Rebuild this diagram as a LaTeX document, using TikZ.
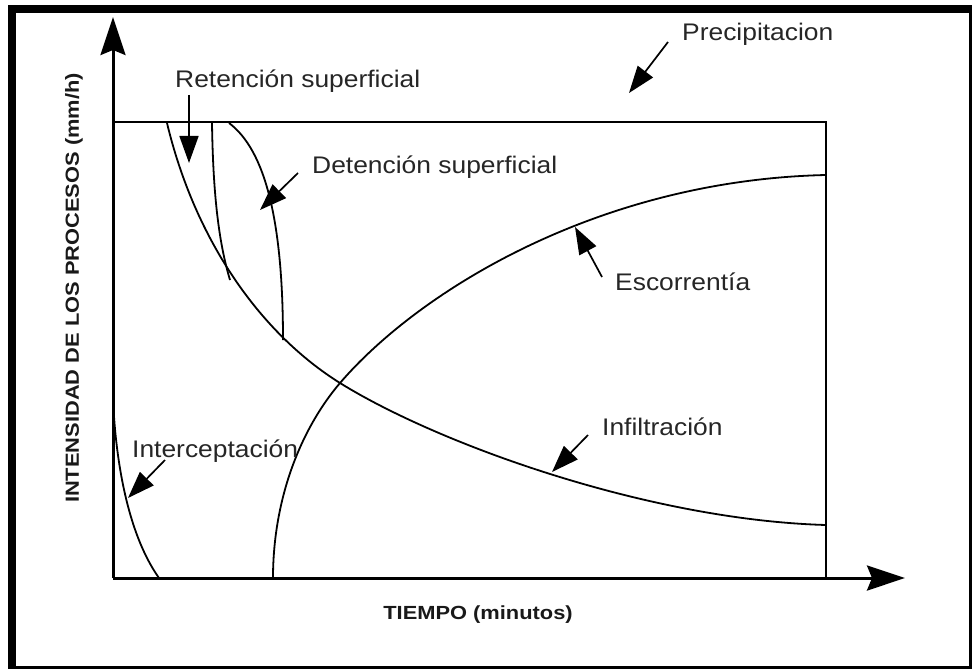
\documentclass[tikz,border=0pt]{standalone}
\usepackage{fontspec}
\setmainfont{Liberation Sans}
\usetikzlibrary{arrows.meta}
\newcommand\sxr[1]{\scalebox{1.1}[1]{#1}}
\newcommand\sxb[1]{\scalebox{1.15}[1]{#1}}
\begin{document}
\begin{tikzpicture}[x=1pt,y=-1pt,
  lbl/.style={font=\fontsize{24}{27}\selectfont, inner sep=0pt, anchor=base west, text=black!85},
  axlbl/.style={font=\fontsize{19}{22}\selectfont\bfseries, inner sep=0pt, text=black!90},
  curve/.style={line width=1.8pt, line join=round},
  pointer/.style={line width=1.7pt, -{Triangle[length=27pt,width=19pt]}},
  axis/.style={line width=3pt, -{Stealth[length=38pt,width=25pt,inset=5pt]}},
]
\useasboundingbox (0,0) rectangle (973,671);
% outer frame
\fill (8,5) rectangle (972,13);
\fill (8,5) rectangle (16,669);
\fill (969,5) rectangle (972,669);
\fill (8,666) rectangle (972,669);
% axes and box
\coordinate (O) at (113,578);
\coordinate (ytip) at (113,17);
\coordinate (xtip) at (905,578);
\coordinate (TL) at (113,122);
\coordinate (TR) at (826,122);
\coordinate (BR) at (826,578);
\draw[line width=2.6pt] (TL) -- (TR) -- (BR);
\draw[axis] (O) -- (ytip);
\draw[axis] (O) -- (xtip);
% curves
\coordinate (X) at (340,383);
\draw[curve] (167,123) .. controls (195,240) and (260,333) .. (X)
                       .. controls (440,445) and (650,520) .. (826,525);
\draw[curve] (273,578) .. controls (273,500) and (300,430) .. (X)
                       .. controls (420,290) and (600,180) .. (826,175);
\draw[curve] (212,123) .. controls (213,190) and (218,240) .. (230,280);
\draw[curve] (229,123) .. controls (265,150) and (283,220) .. (283,340);
\draw[curve] (113,398) .. controls (115,450) and (125,530) .. (159,578);
% labels
\node[lbl] (prec) at (682,41) {\sxr{Precipitacion}};
\node[lbl] (ret) at (175,88) {\sxr{Retención superficial}};
\node[lbl] (det) at (312,173) {\sxr{Detención superficial}};
\node[lbl] (esc) at (615,290) {\sxr{Escorrentía}};
\node[lbl] (inf) at (602,435) {\sxr{Infiltración}};
\node[lbl] (int) at (132,457) {\sxr{Interceptación}};
\node[axlbl, anchor=base] (tiempo) at (478,619) {\sxb{TIEMPO (minutos)}};
\node[axlbl, rotate=90] (intens) at (74,288) {\sxb{INTENSIDAD DE LOS PROCESOS (mm/h)}};
% pointers
\coordinate (precA) at (668,42);  \coordinate (precB) at (629,93);
\coordinate (retA) at (189,95);   \coordinate (retB) at (189,163);
\coordinate (detA) at (298,173);  \coordinate (detB) at (260,210);
\coordinate (escA) at (602,277);  \coordinate (escB) at (575,227);
\coordinate (infA) at (588,435);  \coordinate (infB) at (552,472);
\coordinate (intA) at (165,460);  \coordinate (intB) at (128,498);
\draw[pointer] (precA) -- (precB);
\draw[pointer] (retA) -- (retB);
\draw[pointer] (detA) -- (detB);
\draw[pointer] (escA) -- (escB);
\draw[pointer] (infA) -- (infB);
\draw[pointer] (intA) -- (intB);
\end{tikzpicture}
\end{document}
